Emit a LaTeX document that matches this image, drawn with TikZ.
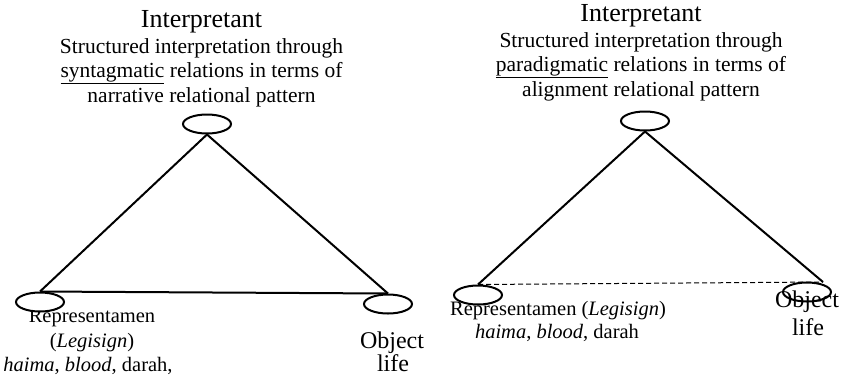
\documentclass[tikz,border=0pt]{standalone}
\usepackage{fontspec}
\setmainfont{Liberation Serif}
\usetikzlibrary{shapes.geometric}
\begin{document}
\begin{tikzpicture}[x=1pt,y=-1pt,
 vert/.style={draw,ellipse,line width=2pt,minimum width=48pt,minimum height=19pt,inner sep=0pt},
 edge/.style={line width=2pt},
 dashedge/.style={line width=1pt,dash pattern=on 5pt off 3pt},
 ttl/.style={anchor=base,inner sep=0pt,font=\fontsize{26}{28}\selectfont},
 txt/.style={anchor=base,inner sep=0pt,font=\fontsize{21.5}{24}\selectfont},
 lbl/.style={anchor=base,inner sep=0pt,font=\fontsize{20.5}{24}\selectfont},
 obj/.style={anchor=base,inner sep=0pt,font=\fontsize{24}{26}\selectfont}]
\useasboundingbox (0,0) rectangle (845,376);
% ---------- left diagram texts ----------
\node[ttl] (lti) at (201.5,27) {Interpretant};
\node[txt] (lt1) at (201.5,53) {Structured interpretation through};
\node[txt] (lt2) at (201.5,77) {\underline{syntagmatic} relations in terms of};
\node[txt] (lt3) at (201.5,102) {narrative relational pattern};
\node[lbl] (lr1) at (92,322) {Representamen};
\node[lbl] (lr2) at (92,347) {(\textit{Legisign})};
\node[lbl] (lr3) at (88,371) {\textit{haima}, \textit{blood}, darah,};
\node[obj] (lo1) at (392,348) {Object};
\node[obj] (lo2) at (393,371) {life};
% ---------- right diagram texts ----------
\node[ttl] (rti) at (641,21) {Interpretant};
\node[txt] (rt1) at (641,47) {Structured interpretation through};
\node[txt] (rt2) at (641,71) {\underline{paradigmatic} relations in terms of};
\node[txt] (rt3) at (641,96) {alignment relational pattern};
\node[lbl] (rr1) at (558,315) {Representamen (\textit{Legisign})};
\node[lbl] (rr2) at (557,338) {\textit{haima}, \textit{blood}, darah};
\node[obj] (ro1) at (807,307) {Object};
\node[obj] (ro2) at (808,335) {life};
% ---------- left triangle ----------
\node[vert,fill=white] (lt) at (207,124) {};
\node[vert,fill=white] (ll) at (40,302) {};
\node[vert,fill=white] (lr) at (388,304) {};
\draw[edge] (lt.south) -- (ll.north);
\draw[edge] (lt.south) -- (lr.north);
\draw[edge] (ll.north) -- (lr.north);
% ---------- right triangle ----------
\node[vert,fill=white] (rt) at (645,121) {};
\node[vert] (rl) at (478,295) {};
\node[vert] (rr) at (807,292) {};
\coordinate (rend) at (823,282);
\draw[edge] (rt.south) -- (rl.north);
\draw[edge] (rt.south) -- (rend);
\draw[dashedge] (rl.north) -- (rend);
\end{tikzpicture}
\end{document}
